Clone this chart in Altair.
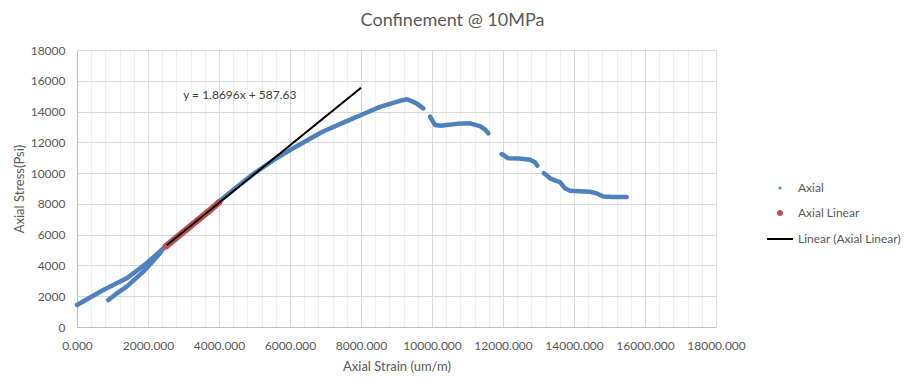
import altair as alt
import pandas as pd

# ---- data ----
axial_seg = ["A"] * 5 + ["B"] * 6 + ["C"] * 15 + ["D"] * 9 + ["E"] * 6 + ["F"] * 12
axial_strain = [
    0, 741, 1400, 1963, 2431,
    882, 1100, 1400, 1868, 2338, 2431,
    4000, 4500, 5000, 5500, 6000, 6500, 6930, 7500, 8000, 8535, 8817, 9100, 9300, 9550, 9755,
    9944, 10085, 10250, 10414, 10700, 11070, 11352, 11500, 11587,
    11963, 12150, 12450, 12761, 12901, 12967,
    13150, 13324, 13500, 13606, 13747, 13887, 14150, 14451, 14639, 14827, 15100, 15484,
]
axial_stress = [
    1430, 2404, 3162, 4140, 5114,
    1754, 2150, 2620, 3594, 4789, 5114,
    8150, 9100, 10000, 10800, 11500, 12150, 12700, 13280, 13780, 14300, 14500, 14700, 14800, 14550, 14210,
    13665, 13126, 13080, 13126, 13200, 13235, 13050, 12820, 12585,
    11242, 10960, 10950, 10870, 10700, 10480,
    10000, 9662, 9500, 9420, 9012, 8857, 8820, 8790, 8680, 8480, 8450, 8440,
]
linear_strain = [2507, 2800, 3100, 3400, 3700, 4000]
linear_stress = [5250, 5800, 6370, 6940, 7500, 8100]
trend_strain = [2530, 8000]
trend_stress = [5318, 15545]
equation_text = ["y = 1.8696x + 587.63"]
equation_x = [2990]
equation_y = [15080]

point_series = ["Axial", "Axial Linear"]
point_colors = ["#4F81BD", "#C0504D"]
trend_series = ["Linear (Axial Linear)"]
trend_color = "#000000"

axial = pd.DataFrame({"strain": axial_strain, "stress": axial_stress, "seg": axial_seg, "series": "Axial"})
linear = pd.DataFrame({"strain": linear_strain, "stress": linear_stress, "series": "Axial Linear"})
trend = pd.DataFrame({"strain": trend_strain, "stress": trend_stress, "series": trend_series[0]})
eq = pd.DataFrame({"strain": equation_x, "stress": equation_y, "label": equation_text})
points = pd.concat([axial[["strain", "stress", "series"]], linear], ignore_index=True)

FONT = "Lato"
GRAY = "#595959"

xscale = alt.Scale(domain=[0, 18000], nice=False)
yscale = alt.Scale(domain=[0, 18000], nice=False)

xaxis = alt.Axis(
    title="Axial Strain (um/m)",
    values=list(range(0, 18001, 400)),
    labelExpr="datum.value % 2000 === 0 ? format(datum.value, '.3f') : ''",
    labelOverlap=False,
    labelBound=False,
    labelFlush=False,
    ticks=False,
    labelPadding=13,
    gridColor={"condition": {"test": "datum.value % 2000 === 0", "value": "#d9d9d9"}, "value": "#efefef"},
    domainColor="#bfbfbf",
    titlePadding=9,
)
yaxis = alt.Axis(
    title="Axial Stress(Psi)",
    values=list(range(0, 18001, 2000)),
    format="d",
    ticks=False,
    labelPadding=12,
    gridColor="#d9d9d9",
    domainColor="#bfbfbf",
    titlePadding=4,
)

base_x = alt.X("strain:Q", scale=xscale, axis=xaxis)
base_y = alt.Y("stress:Q", scale=yscale, axis=yaxis)

point_legend = alt.Legend(
    title=None,
    orient="none",
    legendX=697,
    legendY=132,
    labelFont=FONT,
    labelFontSize=12,
    labelColor=GRAY,
    labelOffset=12,
    rowPadding=13,
    symbolType="circle",
    symbolStrokeWidth=0,
)
line_legend = alt.Legend(
    title=None,
    orient="none",
    legendX=689,
    legendY=175,
    labelFont=FONT,
    labelFontSize=12,
    labelColor=GRAY,
    labelOffset=4,
    symbolType="stroke",
    symbolSize=676,
    symbolStrokeWidth=2,
    symbolStrokeColor=trend_color,
)

blue_line = alt.Chart(axial).mark_line(
    strokeWidth=4.5, strokeCap="round", strokeJoin="round", color=point_colors[0]
).encode(x=base_x, y=base_y, detail="seg:N")

pts = alt.Chart(points).mark_point(filled=True, opacity=1).encode(
    x=base_x, y=base_y,
    color=alt.Color("series:N", scale=alt.Scale(domain=point_series, range=point_colors), legend=point_legend),
    size=alt.Size("series:N", scale=alt.Scale(domain=point_series, range=[9, 36]), legend=point_legend),
)
red_line = alt.Chart(linear).mark_line(strokeWidth=6.5, strokeCap="round", color=point_colors[1]).encode(
    x=base_x, y=base_y
)
trend_line = alt.Chart(trend).mark_line(strokeWidth=2, color=trend_color).encode(
    x=base_x, y=base_y,
    strokeDash=alt.StrokeDash("series:N", scale=alt.Scale(domain=trend_series, range=[[1, 0]]), legend=line_legend),
)
eq_text = alt.Chart(eq).mark_text(align="left", baseline="middle", font=FONT, fontSize=12, color="#404040").encode(
    x=base_x, y=base_y, text="label:N"
)

chart = alt.layer(blue_line, pts, red_line, trend_line, eq_text).properties(
    width=639,
    height=277,
    autosize=alt.AutoSizeParams(type="none"),
    padding={"left": 69, "top": 42, "right": 189, "bottom": 48},
    title=alt.TitleParams(
        "Confinement @ 10MPa",
        font=FONT, fontSize=18, fontWeight="normal", color=GRAY,
        anchor="middle", dx=56, offset=14,
    ),
).configure_axis(
    labelFont=FONT, labelFontSize=12, labelColor=GRAY,
    titleFont=FONT, titleFontSize=13, titleFontWeight="normal", titleColor=GRAY,
).configure_view(stroke=None)

chart.save("out.html", embed_options={"renderer": "svg", "actions": False})
